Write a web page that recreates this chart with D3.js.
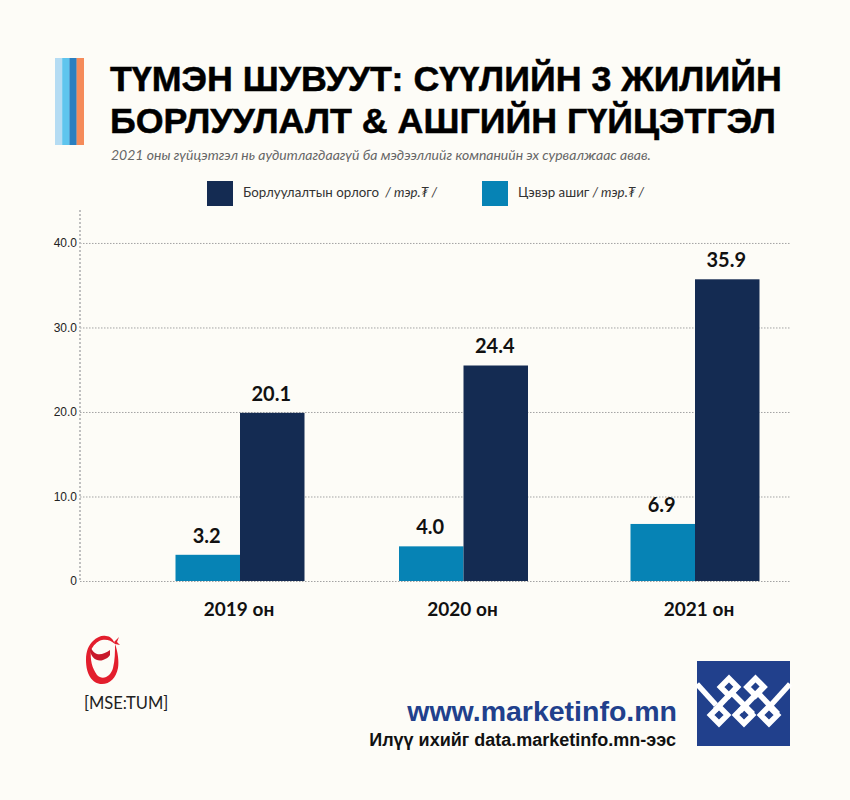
<!DOCTYPE html>
<html>
<head>
<meta charset="utf-8">
<script src="https://d3js.org/d3.v7.min.js"></script>
<style>
  html, body { margin: 0; padding: 0; background: #fdfcf7; }
  svg { display: block; }
  .sans { font-family: "Liberation Sans", Arial, sans-serif; }
  .soft { font-family: Lato, "Open Sans", sans-serif; }
</style>
</head>
<body>
<div id="container"></div>
<script>
/** DATA */
const years = ["2019 он", "2020 он", "2021 он"];
// bar heights, labels as printed (they differ a little in the source)
const profit = [3.1, 4.1, 6.75];
const revenue = [19.9, 25.5, 35.7];
const profitLabels = ["3.2", "4.0", "6.9"];
const revenueLabels = ["20.1", "24.4", "35.9"];
const tickValues = [0, 10, 20, 30, 40];
const tickLabels = ["0", "10.0", "20.0", "30.0", "40.0"];
const titleLines = ["ТҮМЭН ШУВУУТ: СҮҮЛИЙН 3 ЖИЛИЙН", "БОРЛУУЛАЛТ & АШГИЙН ГҮЙЦЭТГЭЛ"];
const stripeColors = ["#b5dcf3", "#5fc5ee", "#2a7fc0", "#f58b5a"];

const width = 850, height = 800;
const darkBlue = "#142b52", teal = "#0683b5", logoBlue = "#21408c";

const svg = d3.select("#container").append("svg")
  .attr("width", width).attr("height", height)
  .style("background", "#fdfcf7");

/** SCALES */
// groups are not evenly spaced in the original, and the year labels sit off-centre too
const x = d3.scaleOrdinal().domain(years).range([240, 463.5, 695]);
const xLabel = d3.scaleOrdinal().domain(years).range([239, 462.5, 699]);
const y = d3.scaleLinear().domain([0, 43.9]).range([581, 210]);
const barW = 64.5;

/** HEADER */
svg.selectAll(".stripe").data(stripeColors).join("rect")
  .attr("class", "stripe")
  .attr("x", (d, i) => 55 + i * 7.2).attr("y", 58)
  .attr("width", 7.4).attr("height", 87)
  .attr("fill", d => d);

svg.selectAll(".title").data(titleLines).join("text")
  .attr("class", "title sans")
  .attr("x", 110).attr("y", (d, i) => 91 + i * 42)
  .attr("font-size", 35.8).attr("font-weight", 700).attr("fill", "#000")
  .attr("stroke", "#000").attr("stroke-width", 0.5)
  .text(d => d);

svg.append("text").attr("class", "soft")
  .attr("x", 111).attr("y", 160)
  .attr("font-size", 14).attr("font-style", "italic").attr("fill", "#666")
  .text("2021 оны гүйцэтгэл нь аудитлагдаагүй ба мэдээллийг компанийн эх сурвалжаас авав.");

/** LEGEND */
const legend = [
  { x: 207, color: darkBlue, name: "Борлуулалтын орлого", unit: "  / тэр.₮ /" },
  { x: 482, color: teal, name: "Цэвэр ашиг", unit: " / тэр.₮ /" }
];
legend.forEach(l => {
  svg.append("rect").attr("x", l.x).attr("y", 181).attr("width", 26).attr("height", 25).attr("fill", l.color);
  const t = svg.append("text").attr("class", "soft")
    .attr("x", l.x + 36).attr("y", 197).attr("font-size", 13.3).attr("fill", "#333")
    .attr("xml:space", "preserve");
  t.append("tspan").text(l.name);
  t.append("tspan").attr("font-style", "italic").text(l.unit);
});

/** AXIS */
const yAxis = d3.axisLeft(y)
  .tickValues(tickValues)
  .tickFormat((d, i) => tickLabels[i])
  .tickSize(-711)
  .tickPadding(3);

const axisG = svg.append("g").attr("transform", "translate(80,0)").call(yAxis);
axisG.select(".domain").remove();
axisG.selectAll(".tick line")
  .attr("stroke", "#a3a3a3").attr("stroke-width", 1).attr("stroke-dasharray", "1.5 1.5");
axisG.selectAll(".tick text")
  .attr("class", "sans").attr("font-size", 12).attr("fill", "#222");

svg.append("line")
  .attr("x1", 80).attr("x2", 80).attr("y1", y(43.9)).attr("y2", y(0))
  .attr("stroke", "#c0c0c0").attr("stroke-width", 2).attr("stroke-dasharray", "2 2");

/** BARS */
svg.selectAll(".profit").data(profit).join("rect")
  .attr("class", "profit")
  .attr("x", (d, i) => x(years[i]) - barW).attr("y", d => y(d))
  .attr("width", barW).attr("height", d => y(0) - y(d))
  .attr("fill", teal);

svg.selectAll(".revenue").data(revenue).join("rect")
  .attr("class", "revenue")
  .attr("x", (d, i) => x(years[i])).attr("y", d => y(d))
  .attr("width", barW).attr("height", d => y(0) - y(d))
  .attr("fill", darkBlue);

function valueLabels(cls, values, labels, dx) {
  svg.selectAll("." + cls).data(values).join("text")
    .attr("class", cls + " soft")
    .attr("x", (d, i) => x(years[i]) + dx - 1).attr("y", d => y(d) - 12)
    .attr("text-anchor", "middle")
    .attr("font-size", 20).attr("font-weight", 700).attr("fill", "#111")
    .text((d, i) => labels[i]);
}
valueLabels("profit-label", profit, profitLabels, -barW / 2);
valueLabels("revenue-label", revenue, revenueLabels, barW / 2);

svg.selectAll(".year").data(years).join("text")
  .attr("class", "year soft")
  .attr("x", d => xLabel(d)).attr("y", 616)
  .attr("text-anchor", "middle")
  .attr("font-size", 19).attr("font-weight", 700).attr("fill", "#111")
  .text(d => d);

/** RED LOGO */
const red = svg.append("g").attr("fill", "#e31e2d");
red.append("path")
  .attr("d", "M115,644 C118,652 119,662 118,668 C116,678 110,684 102,684 C92,684 86,674 86,660 C86,650 89,645 93,641 C97,637 102,635 106,636 C110,636 113,639 115,644 C111,640 106,639 102,640 C97,641 93,646 91,650 C90,660 92,668 97,675 C103,681 111,676 113,668 C115,660 115,652 115,644 Z");
red.append("path")
  .attr("fill", "#c8192a")
  .attr("d", "M90,650 C91,658 97,662 103,660 C106,659 109,657 110,655 L110,650 C106,653 101,655 97,654 C94,653 92,650 91,648 Z");
red.append("path").attr("d", "M114,642 L119,637 L117,642 L120,645 L115,644 Z");

svg.append("text").attr("class", "soft")
  .attr("x", 84).attr("y", 709).attr("font-size", 16.5).attr("fill", "#222")
  .text("[MSE:TUM]");

/** FOOTER */
svg.append("text").attr("class", "sans")
  .attr("x", 677).attr("y", 721).attr("text-anchor", "end")
  .attr("font-size", 28.5).attr("font-weight", 700).attr("fill", logoBlue)
  .text("www.marketinfo.mn");

svg.append("text").attr("class", "sans")
  .attr("x", 676).attr("y", 746).attr("text-anchor", "end")
  .attr("font-size", 18).attr("font-weight", 700).attr("fill", "#111")
  .text("Илүү ихийг data.marketinfo.mn-ээс");

/** KNOT LOGO */
const knot = svg.append("g");
knot.append("rect").attr("x", 697).attr("y", 661).attr("width", 93).attr("height", 85).attr("fill", logoBlue);
const ring = (cx, cy) => `M${cx},${cy - 8.5} L${cx + 8.5},${cy} L${cx},${cy + 8.5} L${cx - 8.5},${cy} Z`;
const knotLines = [
  "M697,684 L716,705",
  "M790,684 L771,705",
  "M737,687 L715,710",
  "M763,687 L740,711",
  "M733,694 L753,714",
  "M759,694 L778,714"
];
knot.selectAll(".strand").data(knotLines).join("path")
  .attr("class", "strand").attr("d", d => d)
  .attr("fill", "none").attr("stroke", "#fff").attr("stroke-width", 5.5);
const knotRings = [[729, 687], [755.5, 687], [719, 715], [744, 715], [769, 715]];
knot.selectAll(".ring").data(knotRings).join("path")
  .attr("class", "ring").attr("d", d => ring(d[0], d[1]))
  .attr("fill", "none").attr("stroke", "#fff").attr("stroke-width", 5.5);
</script>
</body>
</html>
